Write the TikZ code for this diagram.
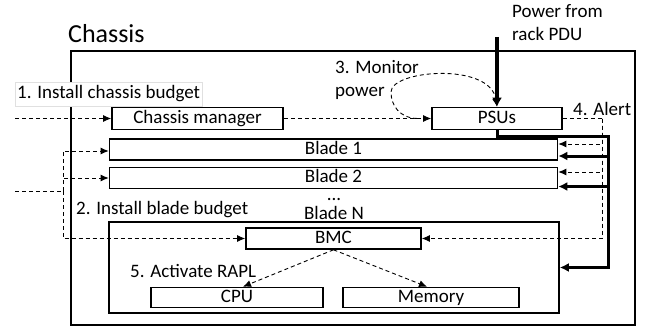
\documentclass[tikz,border=0pt]{standalone}
\usepackage{fontspec}
\setmainfont{Carlito}
\usetikzlibrary{arrows.meta,positioning}

\begin{document}
\begin{tikzpicture}[
    x=1pt, y=-1pt,
    font=\fontsize{19}{23}\selectfont,
    box/.style={rectangle, draw, line width=1.6pt, inner sep=0pt, text height=12pt, text depth=3pt},
    label/.style={inner sep=0pt, anchor=base west},
    dashline/.style={dash pattern=on 4pt off 3pt, line width=0.9pt},
    dasharrow/.style={dashline, -{Latex[length=8pt,width=7pt]}},
    feed/.style={line width=3pt, -{Latex[length=9pt,width=9pt]}}
]
\useasboundingbox (0,0) rectangle (645,329);

% Chassis frame
\node[draw, line width=1.2pt, minimum width=564pt, minimum height=274pt, inner sep=0pt] (chassis) at (353,188) {};
\node[label, font=\fontsize{26}{30}\selectfont] (title) at (68,43) {Chassis};

% Boxes
\node[box, minimum width=171pt, minimum height=22pt] (mgr) at (197.5,118.5) {Chassis manager};
\node[box, minimum width=130pt, minimum height=22pt] (psu) at (497,118.5) {PSUs};
\node[box, minimum width=448pt, minimum height=21pt] (blade1) at (333.5,149.5) {Blade 1};
\node[box, minimum width=448pt, minimum height=21pt] (blade2) at (333.5,178) {Blade 2};
\node[box, minimum width=450pt, minimum height=91pt] (bladeN) at (334,267.5) {};
\node[box, minimum width=175pt, minimum height=21pt] (bmc) at (333.5,238.5) {BMC};
\node[box, minimum width=172pt, minimum height=20pt] (cpu) at (237,297.5) {CPU};
\node[box, minimum width=176pt, minimum height=20pt] (mem) at (431,297.5) {Memory};

% Labels
\node[label, fill=white, draw=black!12, inner xsep=2pt, inner ysep=4pt] (step1) at (15,99) {1. Install chassis budget};
\node[label] (step2) at (76,214) {2. Install blade budget};
\node[label, anchor=north west, align=left] (step3) at (335,60) {3. Monitor\\power};
\node[label] (step4) at (573,115) {4. Alert};
\node[label] (step5) at (130,277) {5. Activate RAPL};
\node[label, anchor=north west, align=left] (pdu label) at (512,4) {Power from\\rack PDU};
\node[label, anchor=base] (dots) at (334,200) {...};
\node[label, anchor=base] (bladeN label) at (334,219) {Blade N};

% Budgets
\coordinate (in1) at (15,118.5);
\coordinate (in2) at (15,191);
\coordinate (split) at (63,191);
\draw[dasharrow] (in1) -- (mgr);
\draw[dasharrow] (mgr) -- (psu);
\draw[dashline] (in2) -- (split);
\draw[dasharrow] (split) |- ([yshift=-1.5pt]blade1.west);
\draw[dasharrow] (split) |- (blade2.west);
\draw[dasharrow] (split) |- (bmc.west);

% Monitoring loop
\draw[dasharrow] ([xshift=-14pt]psu.west) .. controls (400,118) and (391,106) .. (391,92)
    .. controls (391,70) and (490,62) .. (psu.north);

% Power in and out
\coordinate (pdu) at (497,37);
\coordinate (feed) at (608,136);
\draw[line width=4pt, -{Latex[length=9pt,width=10pt]}] (pdu) -- (psu.north);
\draw[feed] (psu.south) |- (feed) |- (bladeN.east);
\draw[feed] (feed) |- ([yshift=-6.5pt]blade1.east);
\draw[feed] (feed) |- ([yshift=-8.5pt]blade2.east);

% Alerts
\coordinate (alert) at (602,118.5);
\draw[dashline] (psu.east) -- (alert);
\draw[dasharrow] (alert) |- ([yshift=5.5pt]blade1.east);
\draw[dasharrow] (alert) |- ([yshift=6pt]blade2.east);
\draw[dasharrow] (alert) |- (bmc.east);

% RAPL
\draw[dasharrow] (bmc.south) -- ([xshift=6pt]cpu.north);
\draw[dasharrow] (bmc.south) -- ([xshift=-4pt]mem.north);

\end{tikzpicture}
\end{document}
